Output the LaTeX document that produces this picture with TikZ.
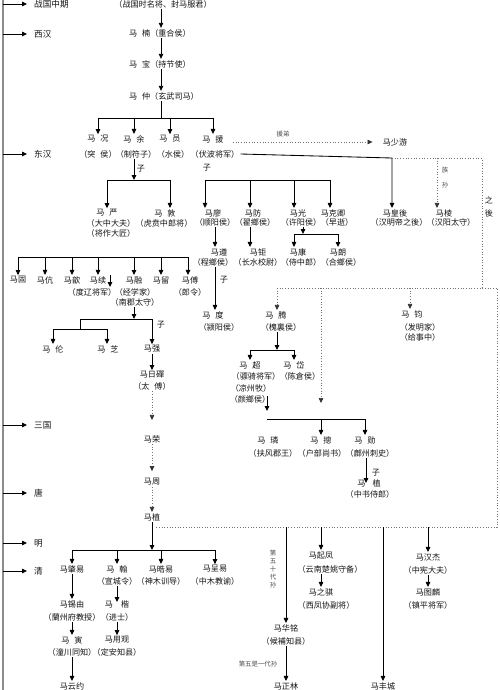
\documentclass[tikz,border=0pt]{standalone}
\usepackage{fontspec}
\newfontfamily\cjk{Noto Sans CJK SC}
\usetikzlibrary{arrows.meta}
\newcommand\myg{\hspace{0.6em}}
\begin{document}
\begin{tikzpicture}[x=1pt,y=-1pt,
  txt/.style={font=\cjk\fontsize{8.1}{9}\selectfont, text=black!92, inner sep=0pt, outer sep=1.3pt},
  era/.style={font=\cjk\fontsize{8.6}{10}\selectfont, text=black!92, inner sep=0pt, anchor=west},
  sm/.style={font=\cjk\fontsize{6.4}{7.5}\selectfont, text=black!70, inner sep=0pt},
  ln/.style={draw=black, line width=0.85pt},
  arr/.style={ln, -{Triangle[length=5pt,width=4.5pt]}},
  dot/.style={draw=black!55, line width=0.7pt, dotted},
  darr/.style={dot, -{Triangle[length=5pt,width=4.5pt,color=black!80]}},
  tl/.style={draw=black!45, line width=1.3pt},
]
\useasboundingbox (0,0) rectangle (500,690);
\fill[white] (0,0) rectangle (500,690);

% ---------- timeline ----------
\coordinate (tlt) at (3,0);
\coordinate (tlb) at (3,690);
\draw[tl] (tlt) -- (tlb);
\foreach \n/\y/\t in {e1/4/战国中期, e2/34/西汉, e3/154/东汉, e4/425/三国, e5/493/唐, e6/543/明, e7/571/清}{
  \node[era] (\n) at (34,\y) {\t};
  \draw[arr,shorten >=7pt] (tlt |- \n.west) -- (\n.west);
}

% ---------- main column ----------
\coordinate (cx) at (161,0);
\node[txt] (top) at (163,4) {（战国时名将、封马服君）};
\node[txt] (nan) at (160,33) {马\myg 楠（重合侯）};
\node[txt] (bao) at (160,64) {马\myg 宝（持节使）};
\node[txt] (zhong) at (164,96) {马\myg 仲（玄武司马）};
\draw[arr] (cx |- top.south) -- (cx |- nan.north);
\draw[arr] (cx |- nan.south) -- (cx |- bao.north);
\draw[arr] (cx |- bao.south) -- (cx |- zhong.north);
\coordinate (b1) at (161,118);
\draw[ln] (cx |- zhong.south) -- (b1);

\node[txt] (kuang) at (98,139) {马\myg 况};
\node[txt] (yu) at (134,139) {马\myg 余};
\node[txt] (yun) at (170,139) {马\myg 员};
\node[txt] (yuan) at (213,139) {马\myg 援};
\node[txt] (kuangt) at (98,154) {（突\myg 侯）};
\node[txt] (yut) at (136,154) {（制符子）};
\node[txt] (yunt) at (173,154) {（水侯）};
\node[txt] (yuant) at (215,154) {（伏波将军）};
\draw[ln] (kuang |- b1) -- (yuan |- b1);
\foreach \n in {kuang,yu,yun,yuan} \draw[arr] (\n |- b1) -- (\n.north);

% sons of Ma Yu
\coordinate (yub) at (134,180);
\draw[arr] (yub |- yut.south) -- (yub);
\node[txt] (zia) at (141,169) {子};
\node[txt] (yan) at (107,213) {马\myg 严};
\node[txt] (dun) at (165,213) {马\myg 敦};
\coordinate (yubl) at (107,180);
\coordinate (yubr) at (170,180);
\draw[ln] (yubl) -- (yubr);
\draw[arr] (yubl) -- (yubl |- yan.north);
\draw[arr] (yubr) -- (yubr |- dun.north);
\node[txt] (yant1) at (111,223) {（大中大夫）};
\node[txt] (dunt) at (164,223) {（虎贲中郎将）};
\node[txt] (yant2) at (111,233) {（将作大匠）};

% sons of Ma Yan
\coordinate (ysl) at (18,257);
\coordinate (ysr) at (188,257);
\draw[ln] (ysl) -- (ysr);
\foreach \n/\x/\t in {gu/18/马固, kang/45/马伉, xin/72/马歆, xu/98/马续, rong/134/马融, liu/161/马留, fu/190/马傅}{
  \node[txt] (\n) at (\x,280) {\t};
}
\foreach \x/\n in {18/gu, 45/kang, 72/xin, 98/xu, 134/rong, 161/liu, 188/fu}{
  \draw[arr] (\x,257) -- (\x,0 |- \n.north);
}
\coordinate (xua) at (110,275);
\coordinate (xub) at (110,287);
\draw[arr] (xua) -- (xub);
\node[txt] (xut) at (92,292) {（度辽将军）};
\node[txt] (rongt1) at (135,292) {（经学家）};
\node[txt] (rongt2) at (135,302) {（南郡太守）};
\node[txt] (fut) at (190,292) {（郎令）};

% sons of Ma Rong
\coordinate (rb) at (134,319);
\draw[arr] (rb |- rongt2.south) -- (rb);
\coordinate (rbl) at (80,319);
\coordinate (rbr) at (152,319);
\draw[ln] (rbl) -- (rbr);
\node[txt] (zib) at (161,325) {子};
\node[txt] (lun) at (53,349) {马\myg 伦};
\node[txt] (zhi) at (108,349) {马\myg 芝};
\node[txt] (qiang) at (152,349) {马强};
\draw[arr] (rbr) -- (qiang.north);
\coordinate (rb2) at (80,329);
\draw[ln] (rbl) -- (rb2);
\coordinate (rb2l) at (53,329);
\coordinate (rb2r) at (107,329);
\draw[ln] (rb2l) -- (rb2r);
\draw[arr] (rb2l) -- (lun.north);
\draw[arr] (rb2r) -- (rb2r |- zhi.north);

% main line down
\node[txt] (midi) at (152,375) {马日磾};
\node[txt] (midit) at (152,386) {（太\myg 傅）};
\node[txt] (rongm) at (152,439) {马荣};
\node[txt] (zhou) at (152,482) {马周};
\node[txt] (zhi2) at (152,517) {马植};
\draw[arr] (qiang.south) -- (midi.north);
\draw[darr,shorten >=14pt] (midit.south) -- (rongm.north);
\draw[darr,shorten >=6pt] (rongm.south) -- (zhou.north);
\draw[darr] (zhou.south) -- (zhi2.north);

% Qing generation
\coordinate (zb) at (152,550);
\draw[arr] (zhi2.south) -- (zb);
\coordinate (zbl) at (72,550);
\coordinate (zbr) at (215,550);
\draw[ln] (zbl) -- (zbr);
\node[txt] (zhaoyi) at (72,569) {马肇易};
\node[txt] (han) at (117,569) {马\myg 翰};
\node[txt] (haoyi) at (161,569) {马晧易};
\node[txt] (chengyi) at (215,569) {马呈易};
\foreach \n in {zhaoyi,han,haoyi,chengyi} \draw[arr] (\n |- zb) -- (\n.north);
\node[txt] (hant) at (117,581) {（宣城令）};
\node[txt] (haoyit) at (161,581) {（神木训导）};
\node[txt] (chengyit) at (215,581) {（中木教谕）};

\node[txt] (xiyou) at (72,604) {马锡由};
\node[txt] (xiyout) at (72,617) {（蘭州府教授）};
\node[txt] (yin) at (72,640) {马\myg 寅};
\node[txt] (yint) at (72,652) {（潼川同知）};
\node[txt] (yunyue) at (72,686) {马云约};
\draw[arr] (zhaoyi.south) -- (xiyou.north);
\draw[arr] (xiyout.south) -- (yin.north);
\draw[arr] (yint.south) -- (yunyue.north);

\node[txt] (kai) at (117,604) {马\hspace{1em}楷};
\node[txt] (kait) at (117,617) {（进士）};
\node[txt] (yongguan) at (117,640) {马用观};
\node[txt] (yongguant) at (117,652) {（定安知县）};
\draw[arr,shorten >=2pt] (hant.south) -- (kai.center);
\draw[arr] (kait.south) -- (yongguan.north);

% ---------- right of Ma Yuan ----------
\node[txt] (shaoyou) at (395,142) {马少游};
\draw[darr,shorten <=8pt,shorten >=9pt] (yuan.east |- shaoyou) -- (shaoyou.west);
\node[sm] (yuandi) at (283,134) {援弟};

\node[txt] (huanghou) at (395,213) {马皇後};
\node[txt] (huanghout) at (399,222) {（汉明帝之後）};
\node[txt] (leng) at (444,213) {马棱};
\node[txt] (lengt) at (451,222) {（汉阳太守）};
\coordinate (hj) at (392,158);
\draw[arr] (yuant.east) -- (hj) -- (hj |- huanghou.north);
\coordinate (zr) at (482,158);
\coordinate (zr2) at (482,288);
\draw[dot] (hj) -- (zr) -- (zr2);
\coordinate (lj) at (437,158);
\draw[darr] (lj) -- (lj |- leng.north);
\node[sm] (zu) at (445,170) {族};
\node[sm] (sun) at (445,185) {孙};
\node[txt] (zh1) at (489,200) {之};
\node[txt] (zh2) at (489,213) {後};

% sons of Ma Yuan
\node[txt] (zic) at (207,168) {子};
\coordinate (ysb1) at (205,180);
\coordinate (ysb2) at (330,180);
\draw[ln] (ysb1) -- (ysb2);
\node[txt] (liao) at (213,213) {马廖};
\node[txt] (fang) at (253,213) {马防};
\node[txt] (guang) at (298,213) {马光};
\node[txt] (keqing) at (333,213) {马克卿};
\foreach \x/\n in {205/liao, 250/fang, 294/guang, 330/keqing} \draw[arr] (\x,180) -- (\x,0 |- \n.north);
\node[txt] (liaot) at (215,222) {（顺阳侯）};
\node[txt] (fangt) at (255,222) {（翟鄉侯）};
\node[txt] (guangt) at (301,222) {（许阳侯）};
\node[txt] (keqingt) at (337,222) {（早逝）};

\node[txt] (zun) at (219,252) {马遵};
\node[txt] (zunt) at (213,262) {（程鄉侯）};
\node[txt] (ju) at (258,252) {马钜};
\node[txt] (jut) at (258,262) {（长水校尉）};
\node[txt] (kangz) at (298,252) {马康};
\node[txt] (kangzt) at (301,262) {（侍中郎）};
\node[txt] (lang) at (338,252) {马朗};
\node[txt] (langt) at (341,262) {（合鄉侯）};
\coordinate (la) at (215,0);
\draw[arr] (la |- liaot.south) -- (la |- zun.north);
\coordinate (fa) at (250,0);
\draw[arr] (fa |- fangt.south) -- (fa |- ju.north);
\coordinate (gb) at (303,234);
\draw[arr] (gb |- guangt.south) -- (gb);
\coordinate (gbl) at (294,234);
\coordinate (gbr) at (338,234);
\draw[ln] (gbl) -- (gbr);
\draw[arr] (gbl) -- (gbl |- kangz.north);
\draw[arr] (gbr) -- (lang.north);

\node[txt] (du) at (213,315) {马\myg 度};
\node[txt] (dut) at (219,327) {（颍阳侯）};
\draw[arr] (la |- zunt.south) -- (la |- du.north);
\node[txt] (zid) at (224,280) {子};

% dotted line of descendants
\coordinate (d1) at (277,288);
\coordinate (d2) at (497,288);
\coordinate (d3) at (497,527);
\coordinate (d4) at (156,527);
\draw[dot] (d1) -- (d2) -- (d3) -- (d4);

\node[txt] (teng) at (276,315) {马\myg 腾};
\node[txt] (tengt) at (281,327) {（槐裏侯）};
\draw[darr] (d1) -- (d1 |- teng.north);
\node[txt] (jun) at (412,314) {马\myg 钧};
\node[txt] (junt1) at (420,327) {（发明家）};
\node[txt] (junt2) at (420,337) {（给事中）};
\coordinate (jd) at (410,288);
\draw[darr] (jd) -- (jd |- jun.north);
\coordinate (pd) at (321,288);
\coordinate (pd2) at (321,403);
\draw[darr] (pd) -- (pd2);

\coordinate (tb) at (277,350);
\draw[arr] (tb |- tengt.south) -- (tb);
\coordinate (tbl) at (250,350);
\coordinate (tbr) at (294,350);
\draw[ln] (tbl) -- (tbr);
\node[txt] (chao) at (250,365) {马\myg 超};
\node[txt] (dai) at (294,365) {马\myg 岱};
\draw[arr] (tbl) -- (chao.north);
\draw[arr] (tbr) -- (dai.north);
\node[txt] (chaot1) at (256,376) {（骠骑将军）};
\node[txt] (dait) at (300,376) {（陈倉侯）};
\node[txt] (chaot2) at (251,388) {（凉州牧）};
\node[txt] (chaot3) at (250,399) {（颜鄉侯）};
\coordinate (ca) at (267,396);
\coordinate (cb) at (267,411);
\draw[arr] (ca) -- (cb);
\coordinate (lb1) at (267,419);
\coordinate (lb2) at (365,419);
\draw[ln] (lb1) -- (lb2);
\node[txt] (lin) at (268,440) {马\myg 璘};
\node[txt] (zong) at (321,440) {马\myg 摠};
\node[txt] (xun) at (365,440) {马\myg 勋};
\draw[arr] (321,419) -- (321,0 |- zong.north);
\draw[arr] (lb2) -- (xun.north);
\node[txt] (lint) at (273,453) {（扶风郡王）};
\node[txt] (zongt) at (322,453) {（户部尚书）};
\node[txt] (xunt) at (370,453) {（鄜州刺史）};
\node[txt] (zhi3) at (369,483) {马\hspace{0.9em}植};
\node[txt] (zhi3t) at (370,494) {（中书侍郎）};
\coordinate (xa) at (366,0);
\draw[arr] (xa |- xunt.south) -- (xa |- zhi3.center);
\node[txt] (zie) at (376,473) {子};

% ---------- right, Ming/Qing ----------
\node[txt] (huaming) at (286,628) {马华铭};
\node[txt] (huamingt) at (286,641) {（候補知县）};
\node[txt] (zhenglin) at (286,686) {马正林};
\draw[arr] (286,527) -- (huaming.north);
\draw[arr] (huamingt.south) -- (zhenglin.north);
\node[sm,align=center,font=\cjk\fontsize{6.4}{8.2}\selectfont] (g50) at (273,569) {第\\五\\十\\代\\孙};
\node[sm] (g51) at (258,664) {第五是一代孙};

\node[txt] (qifeng) at (321,555) {马起凤};
\node[txt] (qifengt) at (330,569) {（云南楚姚守备）};
\node[txt] (zhiqi) at (321,592) {马之骐};
\node[txt] (zhiqit) at (326,605) {（西凤协副将）};
\draw[arr] (321,527) -- (qifeng.north);
\coordinate (qa) at (321,0);
\draw[arr] (qa |- qifengt.south) -- (zhiqi.north);

\node[txt] (fengcheng) at (383,686) {马丰城};
\draw[arr] (383,527) -- (fengcheng.north);

\node[txt] (hanjie) at (428,557) {马汉杰};
\node[txt] (hanjiet) at (428,570) {（中宪大夫）};
\node[txt] (tulin) at (428,592) {马图麟};
\node[txt] (tulint) at (428,605) {（镇平将军）};
\draw[arr] (428,527) -- (hanjie.north);
\draw[arr] (hanjiet.south) -- (tulin.north);
\end{tikzpicture}
\end{document}
